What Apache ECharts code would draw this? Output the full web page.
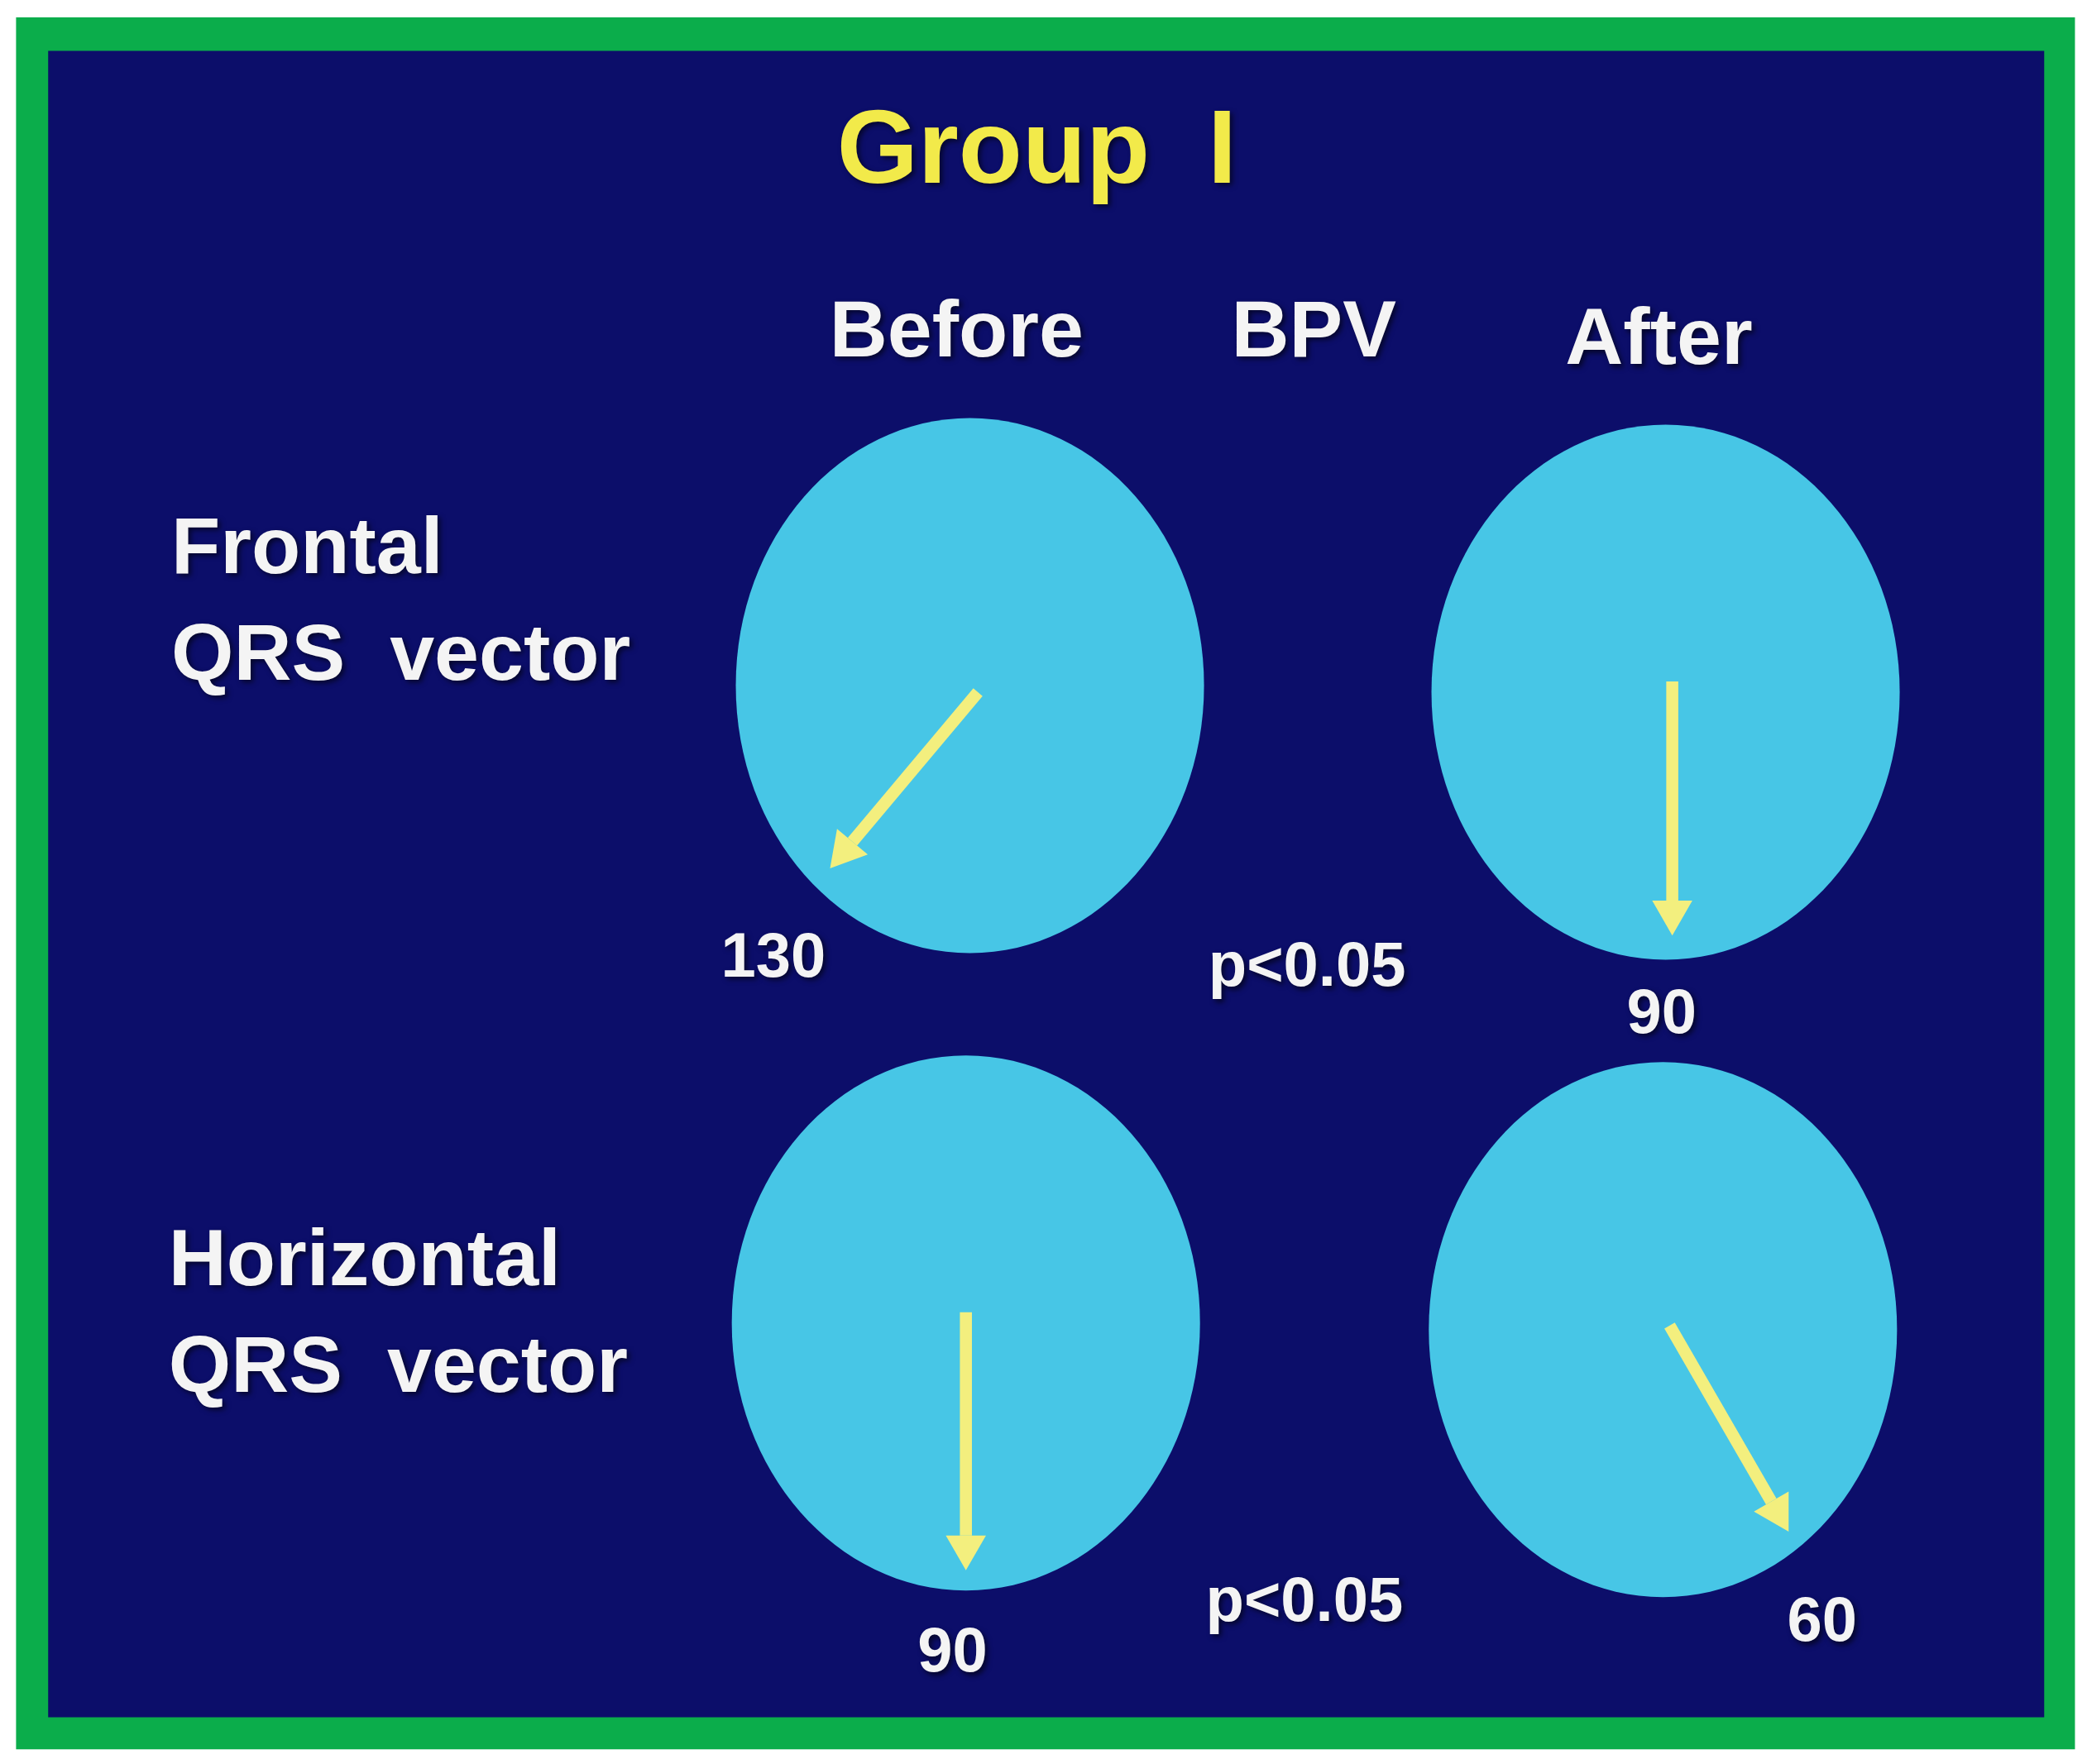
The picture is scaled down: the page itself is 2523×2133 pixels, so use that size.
<!DOCTYPE html>
<html><head><meta charset="utf-8">
<script src="https://cdn.jsdelivr.net/npm/echarts@6/dist/echarts.min.js"></script>
<style>html,body{margin:0;padding:0;background:#fff}#c{width:2523px;height:2133px}</style>
</head><body><div id="c"></div>
<script>
// Reference-frame units (1560 x 1320)
const panelNames = ['Frontal before','Frontal after','Horizontal before','Horizontal after'];
const circleCenters = [[725,513],[1245,518],[722,990],[1243,995]];
const vectorAngles = [130, 90, 90, 60];       // degrees
const arrowStarts = [[731,518],[1250,510],[722,982],[1248,992]];
const arrowLengths = [172, 190, 193, 178];
const angleLabels = ['130','90','90','60'];
const angleLabelPos = [[578,718],[1242,760],[712,1238],[1362,1215]];
const columnHeads = ['Before','BPV','After'];
const columnHeadPos = [[715,250],[982,250],[1240,256]];
const rowLabels = ['Frontal','QRS  vector','Horizontal','QRS  vector'];
const rowLabelPos = [[128,412],[128,492],[126,945],[126,1025]];
const pLabels = ['p<0.05','p<0.05'];
const pLabelPos = [[977,725],[975,1200]];
const titleText = 'Group  I';

const chart = echarts.init(document.getElementById('c'));
const FONT = '"Liberation Sans", Arial, sans-serif';
function S(api){return api.getWidth()/1560;}

const arrowData = vectorAngles.map((a,i)=>{
  const r=a*Math.PI/180, s=arrowStarts[i], L=arrowLengths[i];
  return [s[0],s[1],s[0]+Math.cos(r)*L,s[1]+Math.sin(r)*L];
});
const texts = [];
texts.push({v:[775,115],t:titleText,size:78,color:'#f2ea4a',align:'center'});
columnHeads.forEach((t,i)=>texts.push({v:columnHeadPos[i],t,size:60,color:'#f4f4f4',align:'center'}));
rowLabels.forEach((t,i)=>texts.push({v:rowLabelPos[i],t,size:60,color:'#f4f4f4',align:'left'}));
angleLabels.forEach((t,i)=>texts.push({v:angleLabelPos[i],t,size:47,color:'#f4f4f4',align:'center'}));
pLabels.forEach((t,i)=>texts.push({v:pLabelPos[i],t,size:47,color:'#f4f4f4',align:'center'}));

chart.setOption({
  animation:false,
  backgroundColor:'#ffffff',
  grid:{left:0,right:0,top:0,bottom:0},
  xAxis:{type:'value',min:0,max:1560,show:false},
  yAxis:{type:'value',min:0,max:1320,inverse:true,show:false},
  series:[
    {type:'custom',data:[[0,0]],z:1,renderItem:(p,api)=>{
      const a=api.coord([12,13]), b=api.coord([1551,1309]);
      const c=api.coord([36,38]), d=api.coord([1528,1285]);
      return {type:'group',children:[
        {type:'rect',shape:{x:a[0],y:a[1],width:b[0]-a[0],height:b[1]-a[1]},style:{fill:'#0bad4b'}},
        {type:'rect',shape:{x:c[0],y:c[1],width:d[0]-c[0],height:d[1]-c[1]},style:{fill:'#0c0e6a'}}
      ]};
    }},
    {type:'custom',name:'circles',data:circleCenters,z:2,renderItem:(p,api)=>{
      const s=S(api), c=api.coord([api.value(0),api.value(1)]);
      return {type:'ellipse',shape:{cx:c[0],cy:c[1],rx:175*s,ry:200*s},style:{fill:'#47c6e6'}};
    }},
    {type:'custom',name:'vectors',data:arrowData,z:3,renderItem:(p,api)=>{
      const s=S(api);
      const a=api.coord([api.value(0),api.value(1)]), b=api.coord([api.value(2),api.value(3)]);
      const dx=b[0]-a[0], dy=b[1]-a[1], L=Math.hypot(dx,dy), ux=dx/L, uy=dy/L;
      const h=26*s, w=15*s;
      const bx=b[0]-ux*h, by=b[1]-uy*h;
      return {type:'group',children:[
        {type:'line',shape:{x1:a[0],y1:a[1],x2:bx,y2:by},style:{stroke:'#f3ef7e',lineWidth:9*s}},
        {type:'polygon',shape:{points:[[b[0],b[1]],[bx-uy*w,by+ux*w],[bx+uy*w,by-ux*w]]},style:{fill:'#f3ef7e'}}
      ]};
    }},
    {type:'custom',name:'texts',data:texts.map(o=>o.v),z:4,renderItem:(p,api)=>{
      const s=S(api), o=texts[p.dataIndex], c=api.coord(o.v);
      return {type:'text',x:c[0],y:c[1],style:{text:o.t,fill:o.color,font:'bold '+(o.size*s)+'px '+FONT,
        align:o.align,verticalAlign:'middle',textShadowColor:'rgba(0,0,0,0.6)',textShadowBlur:4*s,textShadowOffsetX:2*s,textShadowOffsetY:2*s}};
    }}
  ]
});
</script></body></html>
